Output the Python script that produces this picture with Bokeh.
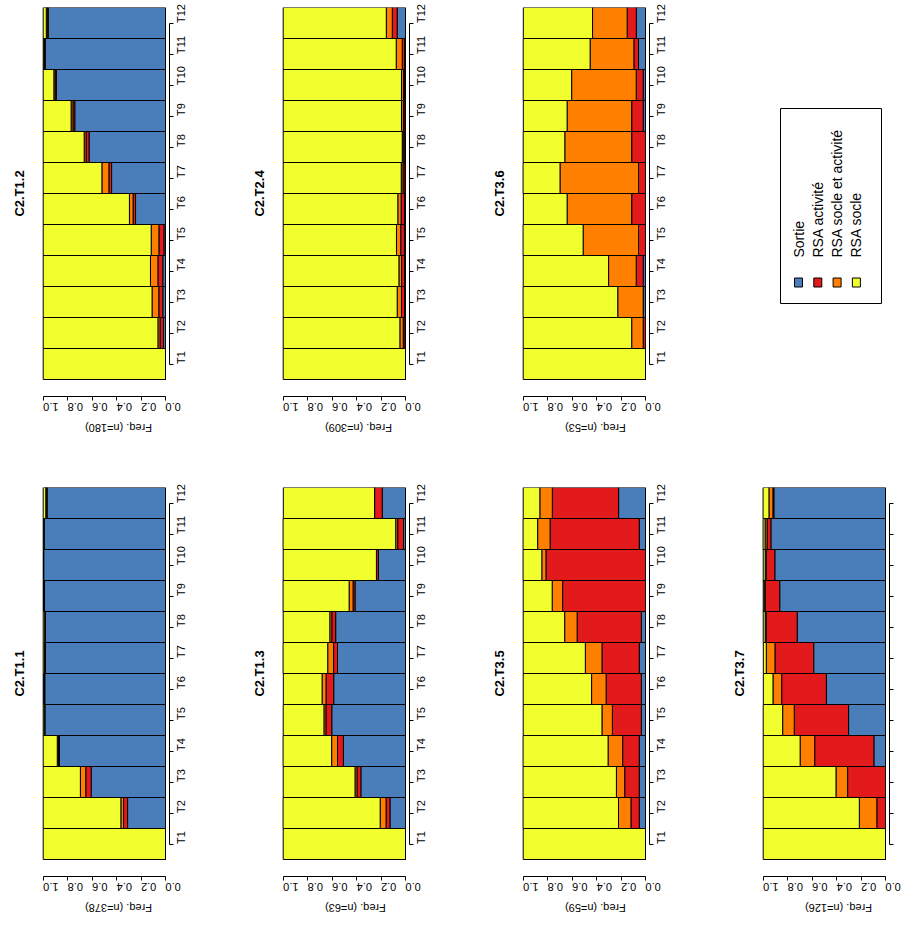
import math
from bokeh.plotting import figure
from bokeh.models import (Range1d, FixedTicker, LinearAxis, Label,
                          ColumnDataSource, PrintfTickFormatter)
from bokeh.layouts import row, column
from bokeh.core.properties import value
from bokeh.embed import file_html
from bokeh.resources import INLINE

# ---------------- data ----------------
times = ["T1", "T2", "T3", "T4", "T5", "T6", "T7", "T8", "T9", "T10", "T11", "T12"]
states = ["Sortie", "RSA activité", "RSA socle et activité", "RSA socle"]
state_colors = ["#4A7EBB", "#E31A1C", "#FF7F00", "#F2FF2E"]
freq_ticks = [0.0, 0.2, 0.4, 0.6, 0.8, 1.0]

c2_t1_1 = {
    "Sortie":                [0, 0.310, 0.608, 0.867, 0.986, 0.987, 0.982, 0.982, 0.989, 0.997, 0.995, 0.968],
    "RSA activité":          [0, 0.033, 0.044, 0.008, 0.003, 0.005, 0.005, 0.003, 0.005, 0.000, 0.000, 0.008],
    "RSA socle et activité": [0, 0.022, 0.044, 0.010, 0.003, 0.003, 0.003, 0.003, 0.003, 0.000, 0.000, 0.003],
    "RSA socle":             [1, 0.635, 0.304, 0.115, 0.008, 0.005, 0.010, 0.012, 0.003, 0.003, 0.005, 0.021],
}
c2_t1_2 = {
    "Sortie":                [0, 0.017, 0.022, 0.022, 0.013, 0.245, 0.441, 0.625, 0.742, 0.893, 0.984, 0.959],
    "RSA activité":          [0, 0.028, 0.033, 0.040, 0.041, 0.020, 0.022, 0.025, 0.015, 0.010, 0.005, 0.008],
    "RSA socle et activité": [0, 0.017, 0.055, 0.061, 0.063, 0.030, 0.057, 0.015, 0.015, 0.010, 0.005, 0.008],
    "RSA socle":             [1, 0.938, 0.890, 0.877, 0.883, 0.705, 0.480, 0.335, 0.228, 0.087, 0.006, 0.025],
}
c2_t1_3 = {
    "Sortie":                [0, 0.127, 0.365, 0.508, 0.603, 0.587, 0.556, 0.571, 0.413, 0.222, 0.016, 0.190],
    "RSA activité":          [0, 0.032, 0.032, 0.048, 0.048, 0.063, 0.032, 0.032, 0.016, 0.016, 0.048, 0.063],
    "RSA socle et activité": [0, 0.048, 0.016, 0.048, 0.016, 0.032, 0.048, 0.016, 0.032, 0.000, 0.016, 0.000],
    "RSA socle":             [1, 0.794, 0.587, 0.397, 0.333, 0.317, 0.365, 0.381, 0.540, 0.762, 0.921, 0.746],
}
c2_t2_4 = {
    "Sortie":                [0, 0.005, 0.008, 0.008, 0.009, 0.009, 0.005, 0.006, 0.006, 0.007, 0.007, 0.068],
    "RSA activité":          [0, 0.014, 0.025, 0.024, 0.030, 0.027, 0.016, 0.013, 0.012, 0.010, 0.020, 0.040],
    "RSA socle et activité": [0, 0.027, 0.035, 0.022, 0.035, 0.027, 0.014, 0.008, 0.015, 0.016, 0.049, 0.049],
    "RSA socle":             [1, 0.954, 0.932, 0.946, 0.926, 0.937, 0.965, 0.973, 0.967, 0.967, 0.924, 0.843],
}
c2_t3_5 = {
    "Sortie":                [0, 0.051, 0.051, 0.051, 0.034, 0.034, 0.051, 0.034, 0.000, 0.000, 0.051, 0.220],
    "RSA activité":          [0, 0.068, 0.119, 0.136, 0.237, 0.288, 0.305, 0.525, 0.678, 0.814, 0.729, 0.542],
    "RSA socle et activité": [0, 0.102, 0.068, 0.119, 0.085, 0.119, 0.136, 0.102, 0.085, 0.034, 0.102, 0.102],
    "RSA socle":             [1, 0.780, 0.763, 0.695, 0.644, 0.559, 0.508, 0.339, 0.237, 0.153, 0.119, 0.136],
}
c2_t3_6 = {
    "Sortie":                [0, 0.000, 0.019, 0.019, 0.000, 0.000, 0.000, 0.000, 0.019, 0.019, 0.057, 0.075],
    "RSA activité":          [0, 0.019, 0.000, 0.057, 0.057, 0.113, 0.057, 0.113, 0.094, 0.057, 0.038, 0.075],
    "RSA socle et activité": [0, 0.094, 0.208, 0.226, 0.453, 0.528, 0.642, 0.547, 0.528, 0.528, 0.358, 0.283],
    "RSA socle":             [1, 0.887, 0.774, 0.698, 0.491, 0.358, 0.302, 0.340, 0.358, 0.396, 0.547, 0.566],
}
c2_t3_7 = {
    "Sortie":                [0, 0.000, 0.000, 0.095, 0.302, 0.484, 0.587, 0.722, 0.865, 0.905, 0.937, 0.913],
    "RSA activité":          [0, 0.071, 0.310, 0.484, 0.444, 0.365, 0.317, 0.254, 0.119, 0.071, 0.032, 0.008],
    "RSA socle et activité": [0, 0.143, 0.095, 0.119, 0.095, 0.071, 0.071, 0.008, 0.008, 0.008, 0.016, 0.032],
    "RSA socle":             [1, 0.786, 0.595, 0.302, 0.159, 0.079, 0.024, 0.016, 0.008, 0.016, 0.016, 0.048],
}

# ---------------- styling / layout constants ----------------
FONT = "Liberation Sans"
PX = 122.3          # pixels per unit of frequency
BAR = 31.0          # pixels per time step
GAP = 17.0          # pixels between last bar and the frequency axis
REXT = 4.0          # pixels between frequency 0 and the time axis
LPAD = 42.7         # pixels between figure left edge and frequency 1.0
FRAME_W = 169
FRAME_H = 389
TOP_PAD = 7
TOP_H = 480
BOT_H = 444
COL_W = 240
LAST_W = 185


def panel(title, n, data, width, height, show_time_labels=True):
    src = ColumnDataSource(dict(y=list(range(1, len(times) + 1)),
                                **{s: data[s] for s in states}))
    p = figure(width=width, height=height, output_backend="svg",
               toolbar_location=None,
               x_range=Range1d(1.0 + LPAD / PX, -REXT / PX),
               y_range=Range1d(0.5 - GAP / BAR, len(times) + 0.5),
               x_axis_location=None, y_axis_location=None,
               min_border_left=0, min_border_right=width - FRAME_W,
               min_border_top=TOP_PAD,
               min_border_bottom=height - FRAME_H - TOP_PAD)
    p.outline_line_color = None
    p.grid.visible = False
    p.background_fill_color = "white"
    p.border_fill_color = "white"

    p.hbar_stack(states, y="y", height=1.0, source=src,
                 fill_color=state_colors, line_color="black", line_width=1)

    # frequency axis (below, upside-down labels)
    xax = LinearAxis(bounds=(0, 1), ticker=FixedTicker(ticks=freq_ticks),
                     formatter=PrintfTickFormatter(format="%.1f"))
    xax.major_label_orientation = math.pi
    xax.axis_label = f"Freq. (n={n})"
    xax.axis_label_text_font = FONT
    xax.axis_label_text_font_size = "11px"
    xax.axis_label_text_font_style = "normal"
    xax.axis_label_text_color = "black"
    xax.axis_label_standoff = 10
    if "axis_label_orientation" in LinearAxis.properties():
        xax.axis_label_orientation = math.pi
    xax.major_label_text_font = FONT
    xax.major_label_text_font_size = "11px"
    xax.major_label_text_color = "black"
    xax.major_label_standoff = 6
    xax.major_tick_in = 0
    xax.major_tick_out = 4
    xax.minor_tick_out = 0
    xax.minor_tick_in = 0
    xax.axis_line_color = "black"
    xax.major_tick_line_color = "black"
    p.add_layout(xax, "below")

    # time axis (right, labels reading upward)
    yax = LinearAxis(bounds=(1, len(times)),
                     ticker=FixedTicker(ticks=list(range(1, len(times) + 1))))
    yax.major_label_orientation = math.pi / 2
    yax.major_tick_in = 0
    yax.major_tick_out = 4
    yax.minor_tick_out = 0
    yax.minor_tick_in = 0
    yax.axis_line_color = "black"
    yax.major_tick_line_color = "black"
    yax.major_label_text_font = FONT
    yax.major_label_text_color = "black"
    if show_time_labels:
        yax.major_label_overrides = {i + 1: t for i, t in enumerate(times)}
        yax.major_label_text_font_size = "11px"
        yax.major_label_standoff = 7
    else:
        yax.major_label_overrides = {i + 1: "" for i in range(len(times))}
        yax.major_label_text_font_size = "0px"
        yax.major_label_standoff = 0
    p.add_layout(yax, "right")

    # panel title, rotated, left of the bars
    p.add_layout(Label(x=1.0 + (LPAD - 18.5) / PX, y=(len(times) + 1) / 2,
                       text=title, angle=math.pi / 2, text_align="center",
                       text_baseline="middle", text_font=FONT,
                       text_font_size="13px", text_font_style="bold",
                       text_color="black"))
    return p


def legend_panel(width, height):
    # same borders as the panels (layouts align frames); the ranges are set
    # so that 1 unit = 1 pixel, x measured from the figure's left edge and
    # y measured upward from the figure's bottom edge
    bottom = height - FRAME_H - TOP_PAD
    p = figure(width=width, height=height, output_backend="svg",
               toolbar_location=None,
               x_range=Range1d(0, FRAME_W),
               y_range=Range1d(bottom, height - TOP_PAD),
               x_axis_location=None, y_axis_location=None,
               min_border_left=0, min_border_right=width - FRAME_W,
               min_border_top=TOP_PAD, min_border_bottom=bottom)
    p.outline_line_color = None
    p.grid.visible = False
    p.quad(left=60, right=161, top=height - 108, bottom=height - 303,
           fill_color=None, line_color="black", line_width=1)
    kx = [78 + 19.3 * i for i in range(len(states))]
    p.rect(x=kx, y=height - 282, width=8, height=9, fill_color=state_colors,
           line_color="black", line_width=1)
    p.text(x=kx, y=height - 257, text=states, angle=math.pi / 2,
           text_align="left", text_baseline="middle",
           text_font=value(FONT), text_font_size="14px", text_color="black")
    return p


p12 = panel("C2.T1.2", 180, c2_t1_2, COL_W, TOP_H)
p24 = panel("C2.T2.4", 309, c2_t2_4, COL_W, TOP_H)
p36 = panel("C2.T3.6", 53, c2_t3_6, COL_W, TOP_H)
leg = legend_panel(LAST_W, TOP_H)

p11 = panel("C2.T1.1", 378, c2_t1_1, COL_W, BOT_H)
p13 = panel("C2.T1.3", 63, c2_t1_3, COL_W, BOT_H)
p35 = panel("C2.T3.5", 59, c2_t3_5, COL_W, BOT_H)
p37 = panel("C2.T3.7", 126, c2_t3_7, LAST_W, BOT_H, show_time_labels=False)

layout = column(row(p12, p24, p36, leg), row(p11, p13, p35, p37))

open("out.html", "w").write(file_html(layout, INLINE))
